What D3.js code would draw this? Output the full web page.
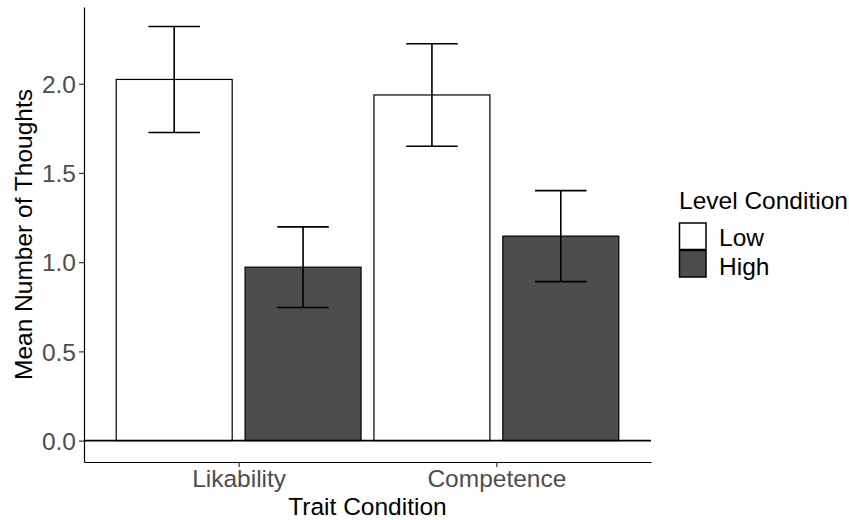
<!DOCTYPE html>
<html>
<head>
<meta charset="utf-8">
<script src="https://cdn.jsdelivr.net/npm/d3@7"></script>
<style>
  html, body { margin: 0; padding: 0; background: #fff; }
  svg { display: block; font-family: "Liberation Sans", Arial, Helvetica, sans-serif; }
</style>
</head>
<body>
<svg id="chart" width="849" height="520"></svg>
<script>
// Trait categories on the x axis and level groups within each
const traits = ["Likability", "Competence"];
const levels = ["Low", "High"];

// Mean number of thoughts per level, in trait order
const lowMeans = [2.024, 1.937];
const highMeans = [0.972, 1.146];

// Standard errors (half-length of the error bars)
const lowSE = [0.297, 0.287];
const highSE = [0.226, 0.255];

const yTicks = [0, 0.5, 1.0, 1.5, 2.0];

const fills = { Low: "#ffffff", High: "#4d4d4d" };
const fontSize = "24.5px";

const rows = [];
traits.forEach((t, i) => {
  rows.push({ trait: t, level: "Low", mean: lowMeans[i], se: lowSE[i] });
  rows.push({ trait: t, level: "High", mean: highMeans[i], se: highSE[i] });
});

const svg = d3.select("#chart");
const plotLeft = 84, plotRight = 651, plotTop = 7, plotBottom = 462;

const x = d3.scalePoint().domain(traits).range([plotLeft, plotRight]).padding(0.6);
const step = x.step();
const xSub = d3.scaleBand().domain(levels)
  .range([-0.5 * step, 0.5 * step]).paddingInner(0.1).paddingOuter(0.05);
const y = d3.scaleLinear().domain([-0.12, 2.43]).range([plotBottom, plotTop]);

// Bars
svg.append("g").selectAll("rect").data(rows).join("rect")
  .attr("x", d => x(d.trait) + xSub(d.level))
  .attr("y", d => y(d.mean))
  .attr("width", xSub.bandwidth())
  .attr("height", d => y(0) - y(d.mean))
  .attr("fill", d => fills[d.level])
  .attr("stroke", "#000")
  .attr("stroke-width", 1.2);

// Reference line at zero
svg.append("line")
  .attr("x1", plotLeft).attr("x2", plotRight)
  .attr("y1", y(0)).attr("y2", y(0))
  .attr("stroke", "#000").attr("stroke-width", 1.7);

// Error bars
const capHalf = 0.1 * step;
const eb = svg.append("g").attr("stroke", "#000").attr("stroke-width", 1.6).attr("fill", "none");
rows.forEach(d => {
  const cx = x(d.trait) + xSub(d.level) + xSub.bandwidth() / 2;
  const y1 = y(d.mean + d.se), y2 = y(d.mean - d.se);
  eb.append("path")
    .attr("d", `M${cx - capHalf},${y1}H${cx + capHalf}M${cx},${y1}V${y2}M${cx - capHalf},${y2}H${cx + capHalf}`);
});

// Axes
const yAxis = svg.append("g").attr("transform", `translate(${plotLeft},0)`)
  .call(d3.axisLeft(y).tickValues(yTicks).tickFormat(d3.format(".1f"))
    .tickSizeInner(5).tickSizeOuter(0).tickPadding(3));
const xAxis = svg.append("g").attr("transform", `translate(0,${plotBottom})`)
  .call(d3.axisBottom(x).tickSizeInner(5).tickSizeOuter(0).tickPadding(4));

[yAxis, xAxis].forEach(g => {
  g.select(".domain").attr("stroke", "#000").attr("stroke-width", 1.2);
  g.selectAll(".tick line").attr("stroke", "#333").attr("stroke-width", 1.2);
  g.selectAll(".tick text").attr("fill", "#4d4d4d")
    .style("font-size", fontSize).style("font-family", "Liberation Sans, Arial, sans-serif");
});
yAxis.selectAll(".tick text").attr("dy", "0.36em");
xAxis.selectAll(".tick text").attr("dy", "0").attr("y", 25);

// Axis titles
svg.append("text")
  .attr("x", (plotLeft + plotRight) / 2).attr("y", 515)
  .attr("text-anchor", "middle").attr("fill", "#000")
  .style("font-size", fontSize)
  .text("Trait Condition");

svg.append("text")
  .attr("transform", `translate(32,${(plotTop + plotBottom) / 2}) rotate(-90)`)
  .attr("text-anchor", "middle").attr("fill", "#000")
  .style("font-size", fontSize)
  .text("Mean Number of Thoughts");

// Legend
const legend = svg.append("g").attr("transform", "translate(679,0)");
legend.append("text").attr("x", 0).attr("y", 209)
  .attr("fill", "#000").style("font-size", fontSize).text("Level Condition");
const keySize = 27.5;
levels.forEach((lv, i) => {
  legend.append("rect")
    .attr("x", 0.5).attr("y", 223 + i * keySize)
    .attr("width", keySize - 1).attr("height", keySize - 1)
    .attr("fill", fills[lv]).attr("stroke", "#000").attr("stroke-width", 1.5);
  legend.append("text")
    .attr("x", 40).attr("y", 246 + i * 29)
    .attr("fill", "#000").style("font-size", fontSize).text(lv);
});
</script>
</body>
</html>
